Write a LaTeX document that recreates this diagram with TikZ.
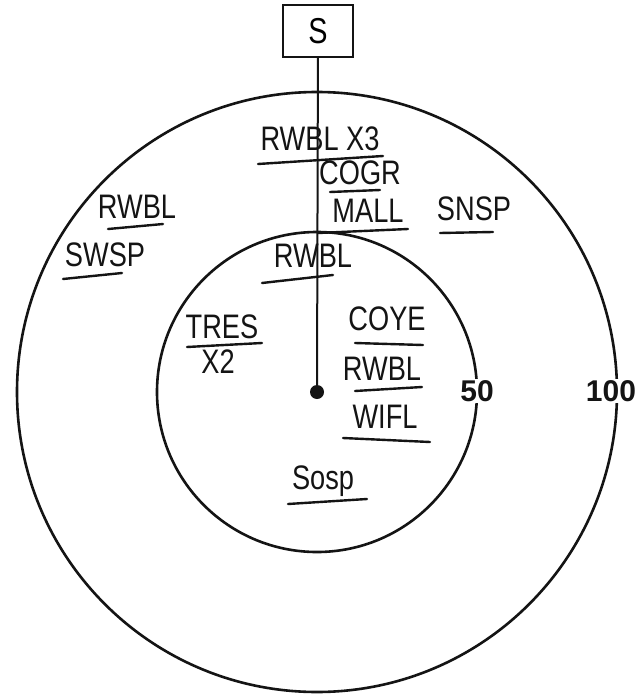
\documentclass[tikz,border=0pt]{standalone}
\usepackage{fontspec}
\setmainfont{Liberation Sans}
\newfontfamily\handfont[FakeStretch=0.8]{Liberation Sans}
\usetikzlibrary{positioning}
\definecolor{plInk}{RGB}{20,20,20}

\tikzset{
  ring/.style={draw=plInk, line width=2.6pt},
  bird/.style={inner sep=0pt, text=plInk, font=\handfont\fontsize{34}{36}\selectfont},
  uline/.style={draw=plInk, line width=2.4pt, line cap=round},
  dist/.style={fill=white, inner sep=1pt, text=plInk, font=\fontsize{30}{32}\selectfont\bfseries}
}

\begin{document}
\begin{tikzpicture}[x=1pt, y=-1pt]
  \useasboundingbox[fill=white] (0,0) rectangle (637,698);

  % rings round the point
  \coordinate (c) at (317,392);
  \draw[ring] (c) circle[radius=300pt];
  \draw[ring] (c) circle[radius=160pt];
  \node[dist] (d50) at (477,391) {50};
  \node[dist] (d100) at (611,391) {100};

  % station box and point
  \node[draw=plInk, line width=2.4pt, minimum width=70pt, minimum height=52pt, inner sep=0pt,
        font=\handfont\fontsize{36}{38}\selectfont] (S) at (318,31) {S};
  \node[circle, fill=plInk, inner sep=0pt, minimum size=14pt] (pt) at (c) {};
  \draw[plInk, line width=2pt] (S) -- (pt);

  % outer ring
  \node[bird] (rwblx) at (320,139) {RWBL X3};
  \draw[uline] (258,164) -- (383,156);
  \node[bird] (cogr) at (360,173) {COGR};
  \draw[uline] (330,192) -- (380,190);
  \node[bird] (mall) at (368,211) {MALL};
  \draw[uline] (318,233) -- (408,229);
  \node[bird] (rwbla) at (137,207) {RWBL};
  \draw[uline] (108,229) -- (163,224);
  \node[bird] (swsp) at (105,255) {SWSP};
  \draw[uline] (63,279) -- (122,273);
  \node[bird] (snsp) at (474,209) {SNSP};
  \draw[uline] (440,233) -- (493,232);

  % inner ring
  \node[bird] (rwblb) at (313,256) {RWBL};
  \draw[uline] (262,283) -- (333,275);
  \node[bird] (tres) at (222,327) {TRES};
  \draw[uline] (187,347) -- (262,343);
  \node[bird] (x2) at (218,362) {X2};
  \node[bird] (coye) at (387,319) {COYE};
  \draw[uline] (355,343) -- (423,345);
  \node[bird] (rwblc) at (382,369) {RWBL};
  \draw[uline] (355,391) -- (422,387);
  \node[bird] (wifl) at (385,417) {WIFL};
  \draw[uline] (343,438) -- (430,442);
  \node[bird] (sosp) at (323,481) {Sosp};
  \draw[uline] (288,504) -- (367,499);
\end{tikzpicture}
\end{document}
